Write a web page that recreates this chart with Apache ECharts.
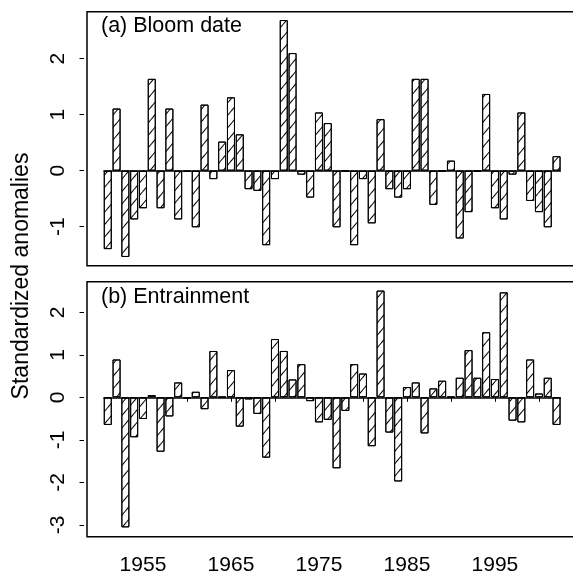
<!DOCTYPE html>
<html>
<head>
<meta charset="utf-8">
<script src="https://cdn.jsdelivr.net/npm/echarts@6/dist/echarts.min.js"></script>
<style>
  html, body {margin: 0; padding: 0; background: #fff;}
  #chart {width: 573px; height: 576px;}
</style>
</head>
<body>
<div id="chart"></div>
<script>
// years on the x axis, one bar per year
const years = [
  1951, 1952, 1953, 1954, 1955, 1956, 1957, 1958, 1959, 1960,
  1961, 1962, 1963, 1964, 1965, 1966, 1967, 1968, 1969, 1970,
  1971, 1972, 1973, 1974, 1975, 1976, 1977, 1978, 1979, 1980,
  1981, 1982, 1983, 1984, 1985, 1986, 1987, 1988, 1989, 1990,
  1991, 1992, 1993, 1994, 1995, 1996, 1997, 1998, 1999, 2000,
  2001, 2002,
];

// (a) bloom date anomalies
const bloomDate = [
  -1.40, 1.11, -1.54, -0.87, -0.67, 1.64, -0.67, 1.11, -0.87, -0.02,
  -1.01, 1.18, -0.15, 0.52, 1.31, 0.65, -0.33, -0.36, -1.33, -0.15,
  2.69, 2.10, -0.07, -0.48, 1.04, 0.85, -1.01, -0.01, -1.33, -0.15,
  -0.94, 0.92, -0.33, -0.48, -0.33, 1.64, 1.64, -0.61, -0.01, 0.18,
  -1.21, -0.74, -0.01, 1.37, -0.67, -0.87, -0.07, 1.04, -0.54, -0.74,
  -1.01, 0.26,
];

// (b) entrainment anomalies
const entrainment = [
  -0.65, 0.89, -3.06, -0.94, -0.51, 0.05, -1.28, -0.45, 0.35, -0.03,
  0.13, -0.28, 1.09, 0.01, 0.64, -0.69, -0.05, -0.39, -1.42, 1.37,
  1.09, 0.42, 0.78, -0.09, -0.59, -0.53, -1.67, -0.32, 0.78, 0.56,
  -1.15, 2.51, -0.83, -1.98, 0.24, 0.35, -0.85, 0.21, 0.39, 0.01,
  0.46, 1.11, 0.46, 1.53, 0.43, 2.47, -0.55, -0.59, 0.89, 0.09,
  0.46, -0.65,
];

const xTicks = [1955, 1960, 1965, 1970, 1975, 1980, 1985, 1990, 1995, 2000];
const xLabels = [1955, 1965, 1975, 1985, 1995];
const bloomTicks = [-1, 0, 1, 2];
const entrainTicks = [-3, -2, -1, 0, 1, 2];

const font = "Liberation Sans";

// "/" hatching inside the bars
const hatch = {
  symbol: "rect",
  symbolSize: 1,
  dashArrayX: [1, 0],
  dashArrayY: [1, 6.4],
  rotation: -Math.PI / 3.6,
  color: "#000",
};

function xAxis(gridIndex, withLabels) {
  return {
    type: "value", gridIndex: gridIndex, min: 1948.64, max: 2006.03,
    offset: 3,
    axisLine: {show: false},
    splitLine: {show: false},
    axisTick: {show: withLabels, customValues: xTicks, length: 4.5, lineStyle: {color: "#000", width: 1}},
    axisLabel: {
      show: withLabels, customValues: xLabels, fontFamily: font, fontSize: 21, color: "#000", margin: 15,
      formatter: (v) => String(v),
    },
  };
}

function yAxis(gridIndex, min, max, ticks) {
  return {
    type: "value", gridIndex: gridIndex, min: min, max: max,
    offset: 3,
    axisLine: {show: false},
    splitLine: {show: false},
    axisTick: {show: true, customValues: ticks, length: 4.5, lineStyle: {color: "#000", width: 1}},
    axisLabel: {customValues: ticks, rotate: 90, fontFamily: font, fontSize: 21, color: "#000", margin: 15},
  };
}

function barSeries(values, index) {
  return {
    type: "bar", xAxisIndex: index, yAxisIndex: index,
    data: years.map((y, i) => [y, values[i]]),
    barWidth: 8,
    itemStyle: {color: "#fff", borderColor: "#000", borderWidth: 1, decal: hatch},
    markLine: {
      silent: true, symbol: "none", label: {show: false},
      lineStyle: {color: "#000", width: 1.5, type: "solid"},
      data: [[{coord: [years[0] - 0.5, 0]}, {coord: [years[years.length - 1] + 0.5, 0]}]],
    },
  };
}

const gridBase = {
  left: 87, width: 505, show: true, borderColor: "#000", borderWidth: 1.5,
  backgroundColor: "transparent", containLabel: false, outerBoundsMode: "none",
};

const chart = echarts.init(document.getElementById("chart"));
chart.setOption({
  animation: false,
  backgroundColor: "#fff",
  grid: [
    Object.assign({}, gridBase, {top: 11.7, height: 254}),
    Object.assign({}, gridBase, {top: 281.7, height: 255}),
  ],
  xAxis: [xAxis(0, false), xAxis(1, true)],
  yAxis: [
    yAxis(0, -1.696, 2.839, bloomTicks),
    yAxis(1, -3.28, 2.72, entrainTicks),
  ],
  series: [barSeries(bloomDate, 0), barSeries(entrainment, 1)],
  graphic: [
    {type: "text", left: 101, top: 15, style: {text: "(a) Bloom date", font: "21.5px \"Liberation Sans\"", fill: "#000"}},
    {type: "text", left: 101, top: 286, style: {text: "(b) Entrainment", font: "21.5px \"Liberation Sans\"", fill: "#000"}},
    {type: "text", x: 22, y: 276, rotation: Math.PI / 2,
      style: {text: "Standardized anomalies", font: "23px \"Liberation Sans\"", fill: "#000", align: "center", verticalAlign: "middle"}},
  ],
});
</script>
</body>
</html>
